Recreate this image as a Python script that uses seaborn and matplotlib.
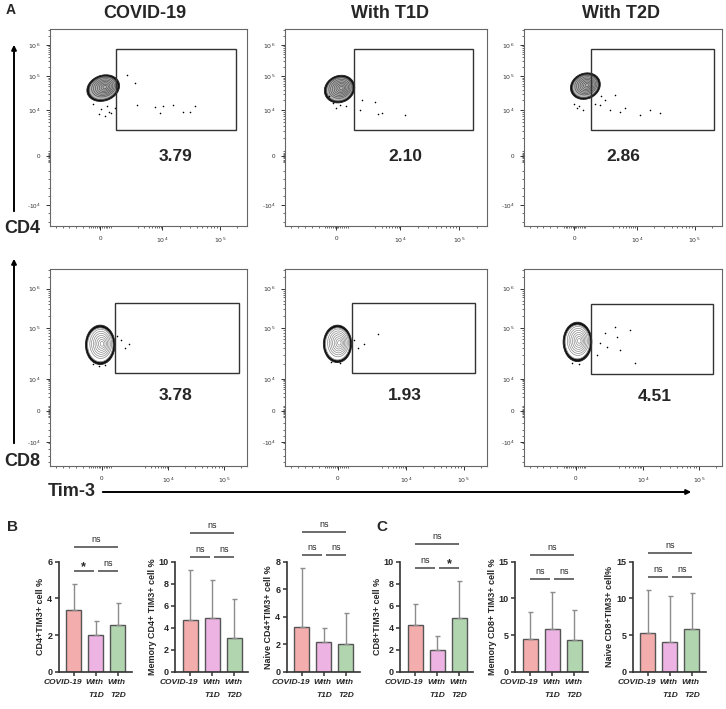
import numpy as np
import pandas as pd
import matplotlib
matplotlib.use("Agg")
import matplotlib.pyplot as plt
import seaborn as sns
from matplotlib.patches import Ellipse, Rectangle, FancyArrowPatch

# ---------------- data ----------------
groups = ["COVID-19", "With T1D", "With T2D"]
group_ticks = ["COVID-19", "With\nT1D", "With\nT2D"]
bar_colors = ["#FFA1A0", "#F6AAE9", "#ABDCA9"]

# flow panels: gate percentages (row CD4, row CD8)
pct_cd4 = ["3.79", "2.10", "2.86"]
pct_cd8 = ["3.78", "1.93", "4.51"]

# main event cluster per panel (axes fraction)
clu_cx = [[0.27, 0.27, 0.31], [0.255, 0.26, 0.27]]
clu_cy = [[0.70, 0.695, 0.71], [0.615, 0.62, 0.63]]
clu_w = [[0.17, 0.155, 0.155], [0.15, 0.14, 0.145]]
clu_h = [[0.13, 0.135, 0.13], [0.20, 0.19, 0.20]]
clu_ang = [[20, 30, 25], [0, 0, 0]]

# gates (x0, x1, y0, y1) in axes fraction
gate_cd4 = [(0.335, 0.944, 0.487, 0.898), (0.342, 0.932, 0.487, 0.897), (0.34, 0.96, 0.487, 0.897)]
gate_cd8 = [(0.33, 0.96, 0.472, 0.827), (0.332, 0.94, 0.47, 0.825), (0.338, 0.955, 0.467, 0.822)]
label_cd4_xy = [(0.635, 0.355), (0.594, 0.352), (0.50, 0.355)]
label_cd8_xy = [(0.635, 0.36), (0.594, 0.36), (0.66, 0.355)]

# sparse events
ev_cd4_x = [[0.44, 0.533, 0.575, 0.626, 0.558, 0.677, 0.711, 0.736, 0.389, 0.431, 0.30, 0.25, 0.28, 0.22, 0.33,
             0.26, 0.29, 0.31],
            [0.446, 0.46, 0.479, 0.594, 0.38, 0.371, 0.25, 0.30, 0.22, 0.27, 0.24],
            [0.384, 0.434, 0.485, 0.51, 0.586, 0.636, 0.687, 0.409, 0.46, 0.36, 0.39, 0.27, 0.30, 0.25, 0.28]]
ev_cd4_y = [[0.614, 0.606, 0.609, 0.614, 0.572, 0.58, 0.58, 0.609, 0.766, 0.724, 0.58, 0.57, 0.56, 0.62, 0.60,
             0.595, 0.61, 0.575],
            [0.63, 0.57, 0.572, 0.563, 0.64, 0.589, 0.60, 0.61, 0.66, 0.615, 0.625],
            [0.614, 0.589, 0.579, 0.60, 0.563, 0.589, 0.574, 0.64, 0.665, 0.62, 0.66, 0.60, 0.59, 0.62, 0.61]]
ev_cd8_x = [[0.36, 0.38, 0.34, 0.40, 0.22, 0.25, 0.28],
            [0.46, 0.39, 0.36, 0.34, 0.23, 0.27],
            [0.46, 0.535, 0.56, 0.485, 0.468, 0.41, 0.418, 0.384, 0.367, 0.24, 0.28]]
ev_cd8_y = [[0.64, 0.60, 0.66, 0.62, 0.52, 0.51, 0.515],
            [0.67, 0.62, 0.60, 0.64, 0.53, 0.525],
            [0.704, 0.69, 0.524, 0.589, 0.656, 0.673, 0.606, 0.624, 0.563, 0.525, 0.52]]

# axis scale (biexponential) tick positions per row
xt_cd4 = [0.254, 0.57, 0.862]
xt_cd8 = [0.262, 0.60, 0.884]
xt_labels = ["0", "$10^4$", "$10^5$"]
yt_cd4 = [0.107, 0.355, 0.589, 0.761, 0.919]
yt_cd8 = [0.122, 0.28, 0.442, 0.70, 0.90]
yt_labels = ["-10$^4$", "0", "$10^4$", "$10^5$", "$10^6$"]

# bar charts: mean and mean+SD
cd4_mean = [3.37, 2.02, 2.55]
cd4_top = [4.80, 2.76, 3.73]
mem_cd4_mean = [4.70, 4.92, 3.10]
mem_cd4_top = [9.28, 8.30, 6.57]
naive_cd4_mean = [3.22, 2.13, 1.99]
naive_cd4_top = [7.55, 3.20, 4.24]
cd8_mean = [4.24, 1.97, 4.85]
cd8_top = [6.15, 3.24, 8.27]
mem_cd8_mean = [4.40, 5.82, 4.32]
mem_cd8_top = [8.18, 10.90, 8.40]
naive_cd8_mean = [5.32, 4.10, 5.82]
naive_cd8_top = [11.20, 10.30, 10.77]

# significance: (COVID vs T1D, T1D vs T2D, COVID vs T2D)
cd4_sig = ["*", "ns", "ns"]
mem_cd4_sig = ["ns", "ns", "ns"]
naive_cd4_sig = ["ns", "ns", "ns"]
cd8_sig = ["ns", "*", "ns"]
mem_cd8_sig = ["ns", "ns", "ns"]
naive_cd8_sig = ["ns", "ns", "ns"]

ylabels = ["CD4+TIM3+ cell %", "Memory CD4+ TIM3+ cell %", "Naive CD4+TIM3+ cell %",
           "CD8+TIM3+ cell %", "Memory CD8+ TIM3+ cell %", "Naive CD8+TIM3+ cell%"]
ymaxs = [6, 10, 8, 10, 15, 15]
ysteps = [2, 2, 2, 2, 5, 5]

# ---------------- figure ----------------
sns.set_theme(style="white")
plt.rcParams['font.family'] = ['Liberation Sans', 'DejaVu Sans']

W, H = 726, 709
fig = plt.figure(figsize=(W / 100, H / 100), dpi=100)


def px_rect(l, t, r, b):
    return [l / W, 1 - b / H, (r - l) / W, (b - t) / H]


def log_minors(lo, hi):
    return [lo + (hi - lo) * np.log10(m) for m in range(2, 10)]


def flow_panel(rect, cx, cy, w, h, ang, gate, lab_xy, lab, ex, ey, xt, yt, dense):
    ax = fig.add_axes(rect)
    ax.set_xlim(0, 1)
    ax.set_ylim(0, 1)
    for s in ax.spines.values():
        s.set_visible(True)
        s.set_color("#666666")
        s.set_linewidth(0.8)
    # cluster drawn as contour rings
    ax.add_patch(Ellipse((cx, cy), w, h, angle=ang, facecolor="#111111", edgecolor="#222222", lw=0.6))
    inner = "#b4b4b4" if dense else "white"
    ring = "#555555" if dense else "#8a8a8a"
    ax.add_patch(Ellipse((cx, cy), w * 0.86, h * 0.86, angle=ang, facecolor=inner, edgecolor=ring, lw=0.6))
    for k in np.linspace(0.74, 0.12, 7):
        ax.add_patch(Ellipse((cx + 0.01 * (1 - k), cy + 0.005), w * k, h * k, angle=ang,
                             facecolor="none", edgecolor=ring, lw=0.5))
    sns.scatterplot(x=ex, y=ey, ax=ax, s=1.3, color="black", linewidth=0, legend=False)
    x0, x1, y0, y1 = gate
    ax.add_patch(Rectangle((x0, y0), x1 - x0, y1 - y0, facecolor="none", edgecolor="#333333", lw=1.0))
    ax.text(lab_xy[0], lab_xy[1], lab, ha="center", va="center", fontsize=12.5, fontweight="bold")
    # ticks
    ax.set_xticks(xt)
    ax.set_xticklabels(xt_labels, fontsize=4.5, color="#333333")
    ax.set_yticks(yt)
    ax.set_yticklabels(yt_labels, fontsize=4.5, color="#333333")
    xminor = list(np.linspace(0.03, 0.2, 6)) + list(np.linspace(0.21, 0.31, 12)) + \
        log_minors(xt[1] - (xt[2] - xt[1]) * 0.6, xt[1]) + log_minors(xt[1], xt[2]) + \
        log_minors(xt[2], xt[2] + (xt[2] - xt[1]))
    yminor = list(np.linspace(0.02, yt[1] - 0.03, 8)) + list(np.linspace(yt[1] - 0.025, yt[1] + 0.025, 8)) + \
        log_minors(yt[1] + 0.03, yt[2]) + log_minors(yt[2], yt[3]) + log_minors(yt[3], yt[4]) + \
        log_minors(yt[4], yt[4] + (yt[4] - yt[3]))
    ax.set_xticks([v for v in xminor if 0 < v < 1], minor=True)
    ax.set_yticks([v for v in yminor if 0 < v < 1], minor=True)
    ax.tick_params(which="major", length=3, width=0.7, color="#333333", direction="out", pad=4,
                   bottom=True, left=True)
    ax.tick_params(which="minor", length=1.7, width=0.5, color="#333333", direction="out",
                   bottom=True, left=True)
    return ax


cols_px = [(50, 247), (285, 487), (524, 722)]
rows_px = [(29, 226), (269, 466)]

for j in range(3):
    l, r = cols_px[j]
    t, b = rows_px[0]
    flow_panel(px_rect(l, t, r, b), clu_cx[0][j], clu_cy[0][j], clu_w[0][j], clu_h[0][j], clu_ang[0][j],
               gate_cd4[j], label_cd4_xy[j], pct_cd4[j], ev_cd4_x[j], ev_cd4_y[j], xt_cd4, yt_cd4, True)
    t, b = rows_px[1]
    flow_panel(px_rect(l, t, r, b), clu_cx[1][j], clu_cy[1][j], clu_w[1][j], clu_h[1][j], clu_ang[1][j],
               gate_cd8[j], label_cd8_xy[j], pct_cd8[j], ev_cd8_x[j], ev_cd8_y[j], xt_cd8, yt_cd8, False)

# column titles, axis names and arrows
for name, xc in zip(groups, [145, 390, 621]):
    fig.text(xc / W, 1 - 13 / H, name, ha="center", va="center", fontsize=13, fontweight="bold")
fig.text(11 / W, 1 - 10 / H, "A", ha="center", va="center", fontsize=10, fontweight="bold")
fig.text(22 / W, 1 - 229 / H, "CD4", ha="center", va="center", fontsize=13, fontweight="bold")
fig.text(22 / W, 1 - 462 / H, "CD8", ha="center", va="center", fontsize=13, fontweight="bold")
fig.text(72 / W, 1 - 491 / H, "Tim-3", ha="center", va="center", fontsize=13, fontweight="bold")
fig.text(13 / W, 1 - 527 / H, "B", ha="center", va="center", fontsize=11, fontweight="bold")
fig.text(382 / W, 1 - 527 / H, "C", ha="center", va="center", fontsize=11, fontweight="bold")

for (x0, y0, x1, y1) in [(14, 214, 14, 42), (14, 446, 14, 256), (100, 492, 694, 492)]:
    fig.add_artist(FancyArrowPatch((x0 / W, 1 - y0 / H), (x1 / W, 1 - y1 / H), transform=fig.transFigure,
                                   arrowstyle="-|>", mutation_scale=7, lw=1.4, color="black"))

# ---------------- bar charts ----------------
means = [cd4_mean, mem_cd4_mean, naive_cd4_mean, cd8_mean, mem_cd8_mean, naive_cd8_mean]
tops = [cd4_top, mem_cd4_top, naive_cd4_top, cd8_top, mem_cd8_top, naive_cd8_top]
sigs = [cd4_sig, mem_cd4_sig, naive_cd4_sig, cd8_sig, mem_cd8_sig, naive_cd8_sig]
bar_lefts = [58.5, 175, 286.5, 400, 515, 632.5]


def sig_bar(ax, x0, x1, y, label):
    ax.plot([x0, x1], [y, y], color="#444444", lw=1.1, clip_on=False, solid_capstyle="butt")
    if label == "*":
        ax.annotate(label, xy=((x0 + x1) / 2, y), xytext=(0, -1.5), textcoords="offset points",
                    ha="center", va="bottom", fontsize=9, fontweight="bold", annotation_clip=False)
    else:
        ax.annotate(label, xy=((x0 + x1) / 2, y), xytext=(0, 2.2), textcoords="offset points",
                    ha="center", va="bottom", fontsize=6.5, annotation_clip=False)


for i in range(6):
    l = bar_lefts[i]
    ax = fig.add_axes(px_rect(l, 561.7, l + 73, 671.7))
    df = pd.DataFrame({"group": groups, "mean": means[i], "top": tops[i]})
    sns.barplot(data=df, x="group", y="mean", hue="group", palette=bar_colors, legend=False,
                width=0.68, edgecolor="#555555", linewidth=1.0, errorbar=None, ax=ax)
    ax.errorbar(range(3), df["mean"], yerr=[np.zeros(3), df["top"] - df["mean"]], fmt="none",
                ecolor="#8c8c8c", elinewidth=1.0, capsize=1.8, capthick=1.0)
    ymax = ymaxs[i]
    ax.set_xlim(-0.7, 2.62)
    ax.set_ylim(0, ymax)
    ax.set_yticks(np.arange(0, ymax + 0.1, ysteps[i]))
    ax.set_yticklabels([str(int(v)) for v in np.arange(0, ymax + 0.1, ysteps[i])],
                       fontsize=6.5, fontweight="bold")
    ax.set_xticks(range(3))
    ax.set_xticklabels([])
    # right-aligned group names under each bar
    for k, name in enumerate(group_ticks):
        ax.annotate(name, xy=(k + 0.36, 0), xytext=(0, -5.5), textcoords="offset points",
                    ha="right", va="top", fontsize=6.0, fontweight="bold", fontstyle="italic",
                    linespacing=2.2, multialignment="right", annotation_clip=False)
    ax.set_xlabel("")
    ax.set_ylabel(ylabels[i], fontsize=6.5, fontweight="bold", labelpad=1.5)
    sns.despine(ax=ax)
    for s in ["left", "bottom"]:
        ax.spines[s].set_color("#333333")
        ax.spines[s].set_linewidth(1.2)
    ax.tick_params(axis="both", length=3, width=1.1, color="#333333", direction="out", pad=1.5,
                   bottom=True, left=True)
    low = max(tops[i]) + 0.118 * ymax
    high = low + 0.212 * ymax
    s = sigs[i]
    sig_bar(ax, 0.0, 0.9, low, s[0])
    sig_bar(ax, 1.08, 2.0, low, s[1])
    sig_bar(ax, 0.0, 2.0, high, s[2])

fig.savefig("out.png", dpi=100, facecolor="white")
